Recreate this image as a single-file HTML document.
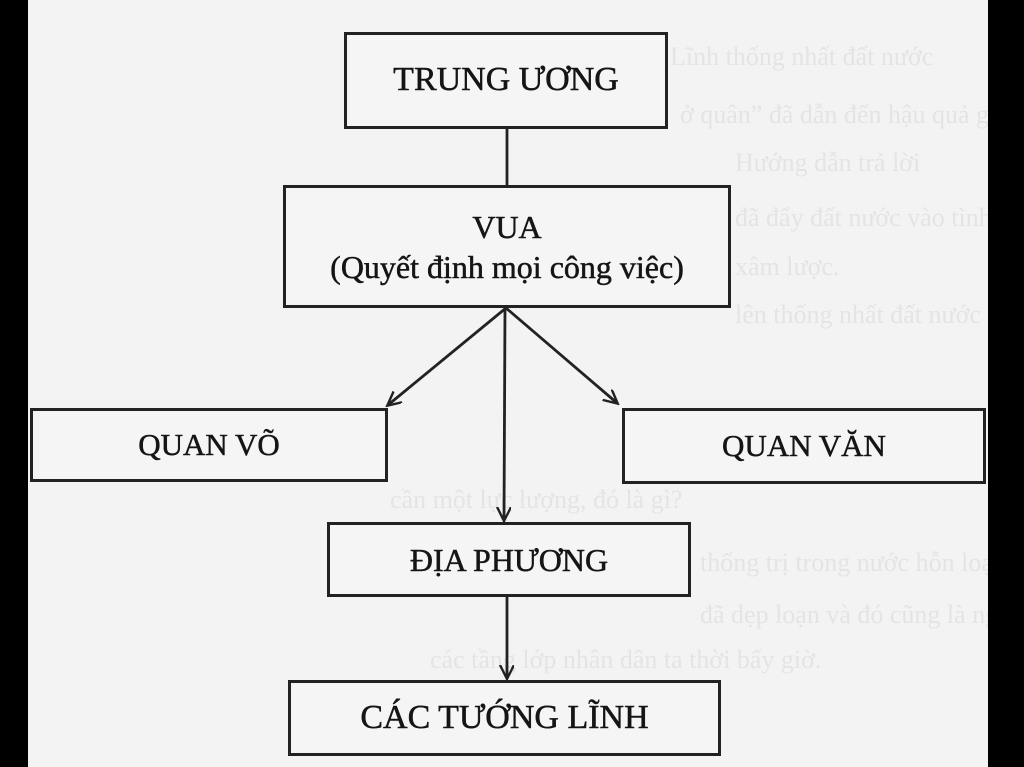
<!DOCTYPE html>
<html><head><meta charset="utf-8"><style>
html,body{margin:0;padding:0}
body{width:1024px;height:767px;background:#000;position:relative;overflow:hidden;font-family:"Liberation Serif",serif}
.page{position:absolute;left:28px;top:0;width:960px;height:767px;background:#f3f3f3;overflow:hidden}
.box{position:absolute;border:3px solid #222;box-sizing:border-box;background:#f5f5f5;color:#151515;text-align:center;display:flex;align-items:center;justify-content:center;flex-direction:column;line-height:1.25;-webkit-text-stroke:0.5px #151515}
.ghost{position:absolute;color:#e4e4e4;font-size:26px;white-space:nowrap}
</style></head><body>
<div class="page">
<div class="ghost" style="left:642px;top:42px">Lĩnh thống nhất đất nước</div>
<div class="ghost" style="left:652px;top:100px">ở quân” đã dẫn đến hậu quả gì?</div>
<div class="ghost" style="left:707px;top:148px">Hướng dẫn trả lời</div>
<div class="ghost" style="left:707px;top:203px">đã đẩy đất nước vào tình trạng</div>
<div class="ghost" style="left:707px;top:252px">xâm lược.</div>
<div class="ghost" style="left:707px;top:300px">lên thống nhất đất nước từ Ngày</div>
<div class="ghost" style="left:362px;top:485px">cần một lực lượng, đó là gì?</div>
<div class="ghost" style="left:672px;top:548px">thống trị trong nước hỗn loạn</div>
<div class="ghost" style="left:672px;top:600px">đã dẹp loạn và đó cũng là nguyên</div>
<div class="ghost" style="left:402px;top:645px">các tầng lớp nhân dân ta thời bấy giờ.</div>
</div>
<svg width="1024" height="767" style="position:absolute;left:0;top:0">
<defs><marker id="a" markerWidth="16" markerHeight="16" refX="13" refY="7" orient="auto" markerUnits="userSpaceOnUse"><path d="M0,0 L14,7 L0,14" fill="none" stroke="#222" stroke-width="2.4"/></marker></defs>
<g stroke="#222" stroke-width="2.8" fill="none">
<line x1="507" y1="128" x2="507" y2="186"/>
<line x1="506" y1="308" x2="388" y2="405" marker-end="url(#a)"/>
<line x1="506" y1="308" x2="617" y2="403" marker-end="url(#a)"/>
<line x1="505" y1="308" x2="504" y2="520" marker-end="url(#a)"/>
<line x1="507" y1="596" x2="507" y2="678" marker-end="url(#a)"/>
</g></svg>
<div class="box" style="left:344px;top:32px;width:324px;height:97px;font-size:34px">TRUNG ƯƠNG</div>
<div class="box" style="left:283px;top:185px;width:448px;height:123px;font-size:32px">VUA<br>(Quyết định mọi công việc)</div>
<div class="box" style="left:30px;top:408px;width:358px;height:74px;font-size:31px">QUAN VÕ</div>
<div class="box" style="left:622px;top:408px;width:364px;height:76px;font-size:31px">QUAN VĂN</div>
<div class="box" style="left:327px;top:522px;width:364px;height:75px;font-size:32px">ĐỊA PHƯƠNG</div>
<div class="box" style="left:288px;top:680px;width:433px;height:76px;font-size:34px">CÁC TƯỚNG LĨNH</div>
</body></html>
